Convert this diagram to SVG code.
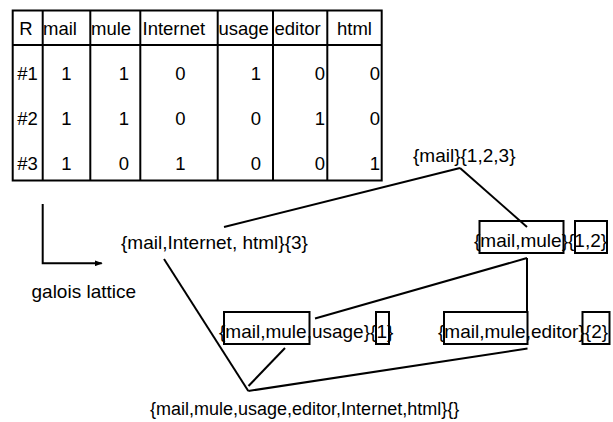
<svg xmlns="http://www.w3.org/2000/svg" width="613" height="422" viewBox="0 0 613 422">
<style>
text{font-family:"Liberation Sans",Arial,sans-serif;fill:#000}
.t{font-size:18.5px}
.l{font-size:19px}
.b{font-size:18px}
.m{text-anchor:middle}
.e{text-anchor:end}
.ln{stroke:#000;stroke-width:2;fill:none}
.bx{stroke:#000;stroke-width:2;fill:none}
</style>
<defs>
<marker id="ah" markerWidth="8" markerHeight="6" refX="7" refY="3" orient="auto" markerUnits="userSpaceOnUse">
<path d="M0,0 L8,3 L0,6 Z" fill="#000"/>
</marker>
</defs>
<rect width="613" height="422" fill="#fff"/>
<g id="table">
<rect x="12.7" y="10.5" width="369" height="170" class="ln"/>
<line x1="12.7" y1="45" x2="381.7" y2="45" class="ln"/>
<line x1="42.7" y1="10.5" x2="42.7" y2="180.5" class="ln"/>
<line x1="90.3" y1="10.5" x2="90.3" y2="180.5" class="ln"/>
<line x1="140.3" y1="10.5" x2="140.3" y2="180.5" class="ln"/>
<line x1="217.7" y1="10.5" x2="217.7" y2="180.5" class="ln"/>
<line x1="273" y1="10.5" x2="273" y2="180.5" class="ln"/>
<line x1="327.3" y1="10.5" x2="327.3" y2="180.5" class="ln"/>
<text class="t m" x="26" y="35">R</text>
<text class="t" x="43" y="35">mail</text>
<text class="t" x="91" y="35">mule</text>
<text class="t" x="142.5" y="35">Internet</text>
<text class="t" x="218.5" y="35">usage</text>
<text class="t" x="274.5" y="35">editor</text>
<text class="t" x="337" y="35">html</text>
<text class="t m" x="27.5" y="80">#1</text>
<text class="t m" x="66.5" y="80">1</text>
<text class="t e" x="129" y="80">1</text>
<text class="t m" x="180.5" y="80">0</text>
<text class="t e" x="261" y="80">1</text>
<text class="t e" x="325" y="80">0</text>
<text class="t e" x="380" y="80">0</text>
<text class="t m" x="27.5" y="125">#2</text>
<text class="t m" x="66.5" y="125">1</text>
<text class="t e" x="129" y="125">1</text>
<text class="t m" x="180.5" y="125">0</text>
<text class="t e" x="261" y="125">0</text>
<text class="t e" x="325" y="125">1</text>
<text class="t e" x="380" y="125">0</text>
<text class="t m" x="27.5" y="170">#3</text>
<text class="t m" x="66.5" y="170">1</text>
<text class="t e" x="129" y="170">0</text>
<text class="t m" x="180.5" y="170">1</text>
<text class="t e" x="261" y="170">0</text>
<text class="t e" x="325" y="170">0</text>
<text class="t e" x="380" y="170">1</text>
</g>
<g id="galois-arrow">
<path d="M42.7,204 L42.7,263.3 L101.7,263.3" class="ln" marker-end="url(#ah)"/>
<text class="l" x="31.5" y="298">galois lattice</text>
</g>
<g id="connectors">
<line x1="224" y1="227" x2="460" y2="168" class="ln"/>
<line x1="460" y1="168" x2="527" y2="227" class="ln"/>
<line x1="527" y1="258" x2="315" y2="318.5" class="ln"/>
<line x1="527" y1="258" x2="527" y2="313" class="ln"/>
<line x1="164" y1="259" x2="248.3" y2="391" class="ln"/>
<line x1="285" y1="348" x2="248.5" y2="386" class="ln"/>
<line x1="248.3" y1="391" x2="527.5" y2="348.5" class="ln"/>
</g>
<g id="node-mail">
<text class="l" x="413" y="162">{mail}{1,2,3}</text>
</g>
<g id="node-mail-internet-html">
<text class="l" x="121" y="249">{mail,Internet, html}{3}</text>
</g>
<g id="node-mail-mule">
<text class="l" x="474" y="247">{mail,mule}{1,2}</text>
<rect x="479.5" y="221" width="84" height="32" class="bx"/>
<rect x="575" y="221" width="32" height="32" class="bx"/>
</g>
<g id="node-mail-mule-usage">
<text class="l" x="219" y="338">{mail,mule,usage}{1}</text>
<rect x="224" y="312" width="85.5" height="32" class="bx"/>
<rect x="376" y="312" width="13" height="32" class="bx"/>
</g>
<g id="node-mail-mule-editor">
<text class="l" x="438" y="338">{mail,mule,editor}{2}</text>
<rect x="444" y="312" width="83.5" height="32" class="bx"/>
<rect x="582.5" y="312" width="27" height="32" class="bx"/>
</g>
<g id="node-all">
<text class="b" x="150" y="415">{mail,mule,usage,editor,Internet,html}{}</text>
</g>
</svg>
